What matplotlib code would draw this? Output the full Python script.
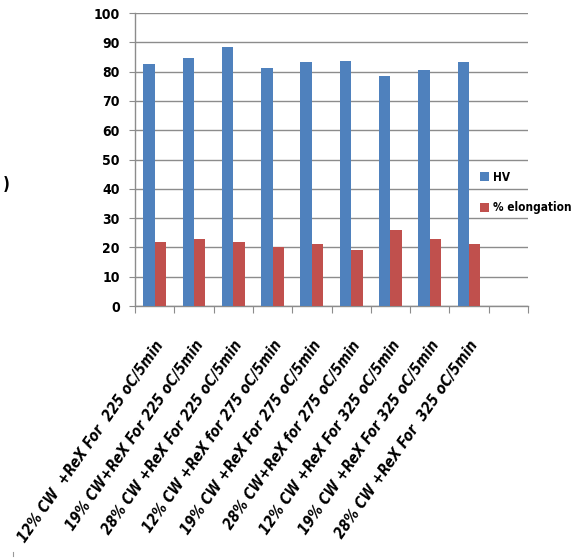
import matplotlib
matplotlib.use("Agg")
import matplotlib.pyplot as plt
from matplotlib import font_manager
from matplotlib.lines import Line2D
import numpy as np

# conditions (cold work % + recrystallisation anneal)
conditions = [
    "12% CW  +ReX For  225 oC/5min",
    "19% CW+ReX For 225 oC/5min",
    "28% CW +ReX For 225 oC/5min",
    "12% CW +ReX for 275 oC/5min",
    "19% CW +ReX For 275 oC/5min",
    "28% CW+ReX for 275 oC/5min",
    "12% CW +ReX For 325 oC/5min",
    "19% CW +ReX For 325 oC/5min",
    "28% CW +ReX For  325 oC/5min",
]
hv = [82.6, 84.6, 88.3, 81.1, 83.3, 83.7, 78.6, 80.6, 83.3]
elongation = [21.8, 22.8, 21.8, 20.2, 21.3, 19.2, 26.0, 22.9, 21.3]
yticks = [0, 10, 20, 30, 40, 50, 60, 70, 80, 90, 100]

# condensed bold dejavu is the closest thing to calibri bold here
cond = font_manager.FontProperties(family='DejaVu Sans', stretch='condensed', weight='bold')
cond_it = font_manager.FontProperties(family='DejaVu Sans', stretch='condensed',
                                      weight='bold', style='italic')

fig = plt.figure(figsize=(5.73, 5.58), dpi=100)
ax = fig.add_axes([0.2356, 0.4516, 0.6859, 0.5251])

n_slots = len(conditions) + 1  # excel leaves one empty slot at the end
x = np.arange(len(conditions)) + 0.5
w = 0.29
b1 = ax.bar(x - w / 2, hv, w, color='#4F81BD', label='HV', zorder=3)
b2 = ax.bar(x + w / 2, elongation, w, color='#C0504D', label='% elongation', zorder=3)

ax.set_xlim(0, n_slots)
ax.set_ylim(0, 100)
ax.set_yticks(yticks)
ax.set_yticklabels([str(t) for t in yticks], fontproperties=cond, fontsize=10)
ax.yaxis.grid(True, color='#8c8c8c', linewidth=1.0, zorder=0)
ax.set_axisbelow(True)

# category boundaries get the ticks, labels sit at the centres
ax.set_xticks(np.arange(n_slots + 1))
ax.set_xticklabels([])
ax.set_xticks(x, minor=True)
ax.set_xticklabels(conditions, minor=True, rotation=55, ha='right',
                   rotation_mode='anchor', fontproperties=cond_it, fontsize=10.7)
ax.tick_params(axis='x', which='minor', length=0, pad=23)
ax.tick_params(axis='x', which='major', length=5, color='#8c8c8c', direction='out')
ax.tick_params(axis='y', length=4, color='#8c8c8c', direction='out', pad=7)

for s in ['top', 'right']:
    ax.spines[s].set_visible(False)
for s in ['left', 'bottom']:
    ax.spines[s].set_color('#8c8c8c')
    ax.spines[s].set_linewidth(1.0)

leg_font = cond.copy()
leg_font.set_size(8.5)
fig.legend(handles=[b1, b2], loc='upper left', bbox_to_anchor=(0.838, 0.694),
           frameon=False, handlelength=0.75, handleheight=0.75,
           handletextpad=0.3, labelspacing=1.5, borderaxespad=0, borderpad=0,
           prop=leg_font)

fig.text(0.005, 0.668, ')', fontproperties=cond, fontsize=12, va='center')
fig.add_artist(Line2D([0.023, 0.023], [0.004, 0.011], color='#999999', lw=0.8))

fig.savefig('out.png', dpi=100)
